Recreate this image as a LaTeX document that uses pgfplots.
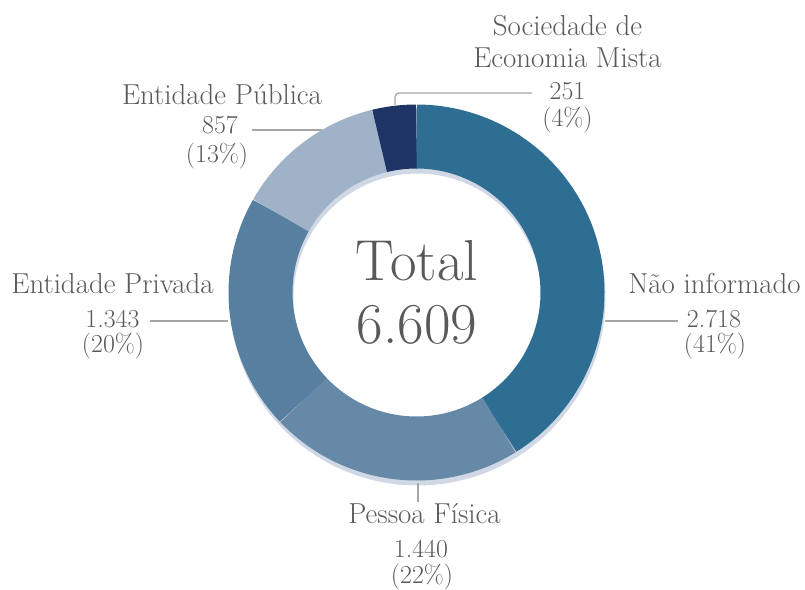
\documentclass[border=0pt]{standalone}
\usepackage{fontspec}
\usepackage{pgfplots}
\pgfplotsset{compat=1.18}
\usepackage{pgfplotstable}
\definecolor{cNI}{HTML}{2D6E92}
\definecolor{cPF}{HTML}{6689A8}
\definecolor{cEPr}{HTML}{577F9F}
\definecolor{cEPu}{HTML}{A0B2C7}
\definecolor{cSEM}{HTML}{1E3464}
\definecolor{cShadow}{HTML}{CFD8E4}
\definecolor{txt}{HTML}{595959}
\definecolor{lead}{HTML}{A6A6A6}
\newcommand\osn[1]{{\addfontfeatures{Numbers=OldStyle}#1}}
\newcommand\lab{\fontsize{29}{33}\selectfont}
\newcommand\num{\fontsize{26}{30}\selectfont}
\pgfplotstableread{
label value
NI 2718
PF 1440
EPr 1343
EPu 857
SEM 251
}\donutdata
\begin{document}
\begin{tikzpicture}
\useasboundingbox (0,0) rectangle (805bp,590bp);
\pgfplotstablegetelem{0}{value}\of\donutdata \let\vNI\pgfplotsretval
\pgfplotstablegetelem{1}{value}\of\donutdata \let\vPF\pgfplotsretval
\pgfplotstablegetelem{2}{value}\of\donutdata \let\vEPr\pgfplotsretval
\pgfplotstablegetelem{3}{value}\of\donutdata \let\vEPu\pgfplotsretval
\pgfplotstablegetelem{4}{value}\of\donutdata \let\vSEM\pgfplotsretval
\pgfmathsetmacro\tot{\vNI+\vPF+\vEPr+\vEPu+\vSEM}
\pgfmathsetmacro\aA{90}
\pgfmathsetmacro\aB{\aA-\vNI/\tot*360}
\pgfmathsetmacro\aC{\aB-\vPF/\tot*360}
\pgfmathsetmacro\aD{\aC-\vEPr/\tot*360}
\pgfmathsetmacro\aE{\aD-\vEPu/\tot*360}
\pgfmathsetmacro\aF{\aE-\vSEM/\tot*360}
\begin{axis}[at={(0,0)}, anchor=south west, scale only axis,
  width=805bp, height=590bp, xmin=0, xmax=805, ymin=0, ymax=590,
  hide axis, clip=false]
% shadow ring
\addplot[draw=cShadow, line width=64bp, domain=0:361, samples=150, variable=\t]
  ({417.5+156*cos(\t)},{292.5+156*sin(\t)});
% segments
\addplot[draw=cNI, line width=64bp, domain=\aB:\aA, samples=80, variable=\t]
  ({416.5+156*cos(\t)},{297.5+156*sin(\t)});
\addplot[draw=cPF, line width=64bp, domain=\aC:\aB, samples=50, variable=\t]
  ({416.5+156*cos(\t)},{297.5+156*sin(\t)});
\addplot[draw=cEPr, line width=64bp, domain=\aD:\aC, samples=50, variable=\t]
  ({416.5+156*cos(\t)},{297.5+156*sin(\t)});
\addplot[draw=cEPu, line width=64bp, domain=\aE:\aD, samples=40, variable=\t]
  ({416.5+156*cos(\t)},{297.5+156*sin(\t)});
\addplot[draw=cSEM, line width=64bp, domain=\aF:\aE, samples=20, variable=\t]
  ({416.5+156*cos(\t)},{297.5+156*sin(\t)});
% leader lines
\draw[lead, line width=1.3bp] (axis cs:395,485) -- (axis cs:395,493) arc[start angle=180, end angle=90, radius=4bp] -- (axis cs:532,497);
\draw[lead, line width=1.3bp] (axis cs:252,460) -- (axis cs:322,460);
\draw[lead, line width=1.3bp] (axis cs:150,269) -- (axis cs:228,269);
\draw[lead, line width=1.3bp] (axis cs:605,269) -- (axis cs:678,269);
\draw[lead, line width=1.3bp] (axis cs:418,107) -- (axis cs:418,88);
% center text
\node[txt, anchor=base, font=\fontsize{58}{64}\selectfont] at (axis cs:417,310) {Total};
\node[txt, anchor=base, font=\fontsize{58}{64}\selectfont] at (axis cs:417,247) {\osn{6.609}};
% labels
\node[txt, anchor=base, font=\lab] at (axis cs:567.5,554) {Sociedade de};
\node[txt, anchor=base, font=\lab] at (axis cs:567.5,522) {Economia Mista};
\node[txt, anchor=base, font=\num] at (axis cs:567.5,490) {\osn{251}};
\node[txt, anchor=base, font=\num] at (axis cs:567.5,463) {\osn{(4\%)}};

\node[txt, anchor=base, font=\lab] at (axis cs:222,485) {Entidade Pública};
\node[txt, anchor=base, font=\num] at (axis cs:220,456) {\osn{857}};
\node[txt, anchor=base, font=\num] at (axis cs:217,427) {\osn{(13\%)}};

\node[txt, anchor=base, font=\lab] at (axis cs:112.5,297) {Entidade Privada};
\node[txt, anchor=base, font=\num] at (axis cs:112.5,263) {\osn{1.343}};
\node[txt, anchor=base, font=\num] at (axis cs:113,238) {\osn{(20\%)}};

\node[txt, anchor=base, font=\lab] at (axis cs:714.5,297) {Não informado};
\node[txt, anchor=base, font=\num] at (axis cs:714,263) {\osn{2.718}};
\node[txt, anchor=base, font=\num] at (axis cs:715,238) {\osn{(41\%)}};

\node[txt, anchor=base, font=\lab] at (axis cs:424.5,67) {Pessoa Física};
\node[txt, anchor=base, font=\num] at (axis cs:421,33) {\osn{1.440}};
\node[txt, anchor=base, font=\num] at (axis cs:422,7) {\osn{(22\%)}};
\end{axis}
\end{tikzpicture}
\end{document}
